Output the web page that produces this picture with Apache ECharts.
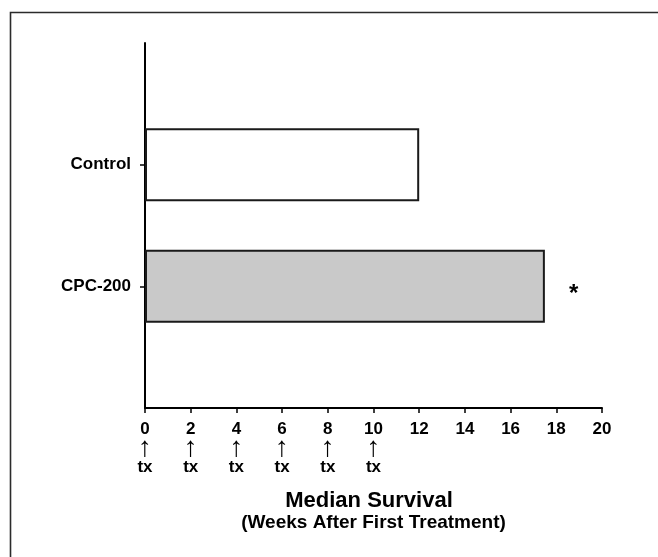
<!DOCTYPE html>
<html>
<head>
<meta charset="utf-8">
<script src="https://cdn.jsdelivr.net/npm/echarts@6/dist/echarts.min.js"></script>
<style>
html,body{margin:0;padding:0;background:#fff;}
#chart{width:658px;height:557px;}
</style>
</head>
<body>
<div id="chart"></div>
<script>
// Data
var categories = ['', 'Control', 'CPC-200', ''];
var survivalWeeks = [null, 12, 17.5, null];
var barColors = ['#ffffff', '#ffffff', '#c9c9c9', '#ffffff'];
var significance = ['', '', '*', ''];
var xTicks = [0, 2, 4, 6, 8, 10, 12, 14, 16, 18, 20];
var treatmentWeeks = [0, 2, 4, 6, 8, 10];
var axisTitle = 'Median Survival';
var axisSubtitle = '(Weeks After First Treatment)';

var FONT = '"Liberation Sans", Arial, sans-serif';
var chart = echarts.init(document.getElementById('chart'), null, {renderer: 'canvas'});

var option = {
  backgroundColor: '#ffffff',
  animation: false,
  graphic: [{
    type: 'rect',
    shape: {x: 10.5, y: 12.5, width: 700, height: 600},
    style: {fill: 'none', stroke: '#2b2b2b', lineWidth: 1.6},
    z: 0
  }],
  grid: {left: 145, right: 56, top: 43, bottom: 149, containLabel: false},
  xAxis: [{
    type: 'value',
    min: 0, max: 20, interval: 2,
    position: 'bottom',
    axisLine: {show: true, lineStyle: {color: '#000', width: 2}},
    axisTick: {show: true, length: 5, inside: false, lineStyle: {color: '#000', width: 1.5}},
    splitLine: {show: false},
    axisLabel: {
      margin: 13,
      color: '#000', fontFamily: FONT, fontWeight: 'bold', fontSize: 17,
      formatter: function (v) { return xTicks.indexOf(v) >= 0 ? String(v) : ''; }
    },
    name: '{t|' + axisTitle + '}\n{s|' + axisSubtitle + '}',
    nameLocation: 'middle',
    nameGap: 81,
    nameTextStyle: {
      color: '#000', fontFamily: FONT, fontWeight: 'bold', align: 'center',
      rich: {
        t: {fontSize: 22, fontWeight: 'bold', fontFamily: FONT, color: '#000', lineHeight: 23, align: 'center', padding: [0, 9, 0, 0]},
        s: {fontSize: 19, fontWeight: 'bold', fontFamily: FONT, color: '#000', lineHeight: 21, align: 'center'}
      }
    }
  }, {
    type: 'value',
    min: 0, max: 20, interval: 2,
    position: 'bottom',
    offset: 0,
    axisLine: {show: false},
    axisTick: {show: false},
    splitLine: {show: false},
    axisLabel: {
      margin: 28,
      formatter: function (v) { return treatmentWeeks.indexOf(v) >= 0 ? '{a|\u2191}\n{b|tx}' : ''; },
      rich: {
        a: {fontSize: 28, fontFamily: FONT, color: '#000', lineHeight: 24, align: 'center'},
        b: {fontSize: 17, fontFamily: FONT, fontWeight: 'bold', color: '#000', lineHeight: 14, align: 'center'}
      }
    }
  }],
  yAxis: {
    type: 'category',
    data: categories,
    inverse: true,
    boundaryGap: false,
    axisLine: {show: true, lineStyle: {color: '#000', width: 2}},
    axisTick: {
      show: true, length: 5, lineStyle: {color: '#000', width: 1.5},
      interval: function (i, v) { return v !== ''; }
    },
    axisLabel: {
      margin: 14,
      color: '#000', fontFamily: FONT, fontWeight: 'bold', fontSize: 17,
      interval: 0
    },
    splitLine: {show: false}
  },
  series: [{
    type: 'bar',
    xAxisIndex: 0,
    barWidth: 73,
    data: survivalWeeks.map(function (v, i) {
      return {
        value: v,
        itemStyle: {color: barColors[i], borderColor: '#1a1a1a', borderWidth: 2},
        label: {
          show: significance[i] !== '',
          position: 'right',
          distance: 24,
          offset: [0, 8],
          formatter: significance[i] || '',
          color: '#000', fontFamily: FONT, fontWeight: 'bold', fontSize: 24
        }
      };
    })
  }]
};
chart.setOption(option);
</script>
</body>
</html>
